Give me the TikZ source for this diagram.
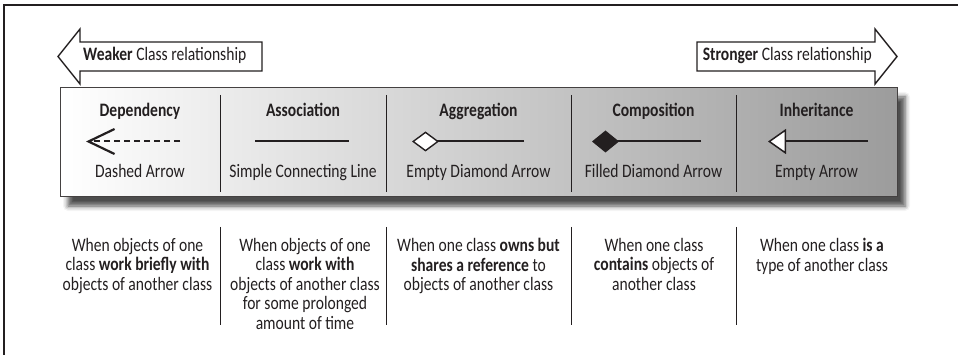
\documentclass[tikz,border=0pt]{standalone}
\usepackage{fontspec}
\setmainfont{Carlito}[FakeStretch=0.82]
\usetikzlibrary{arrows.meta,positioning,shadows.blur}
\definecolor{relInk}{HTML}{231F20}
\definecolor{relDark}{HTML}{9C9C9C}

\begin{document}
\begin{tikzpicture}[x=1pt,y=-1pt,font=\fontsize{19}{19.5}\selectfont,text=relInk,
    band/.style={draw=relInk,line width=1.4pt,fill=white,line join=miter},
    strip/.style={draw=relInk!85,line width=1pt,left color=white,right color=relDark,
                  minimum width=837pt,minimum height=109pt,inner sep=0pt,
                  blur shadow={shadow xshift=8pt,shadow yshift=-9pt,
                               shadow blur radius=5pt,shadow opacity=70}},
    title/.style={font=\fontsize{19}{19.5}\selectfont\bfseries,anchor=base},
    kind/.style={anchor=base},
    note/.style={align=center,anchor=north,inner sep=0pt},
    sep/.style={draw=relInk,line width=1pt},
    icon/.style={draw=relInk,line width=2pt}]
  \useasboundingbox (0,0) rectangle (958,355);
  % outer frame
  \draw[relInk,line width=1.3pt] (4,355) -- (4,5) -- (958,5);

  % direction arrows
  \draw[band] (262,42) -- (80,42) -- (80,29) -- (58,56.5) -- (80,84) -- (80,71) -- (262,71) -- cycle;
  \draw[band] (697,42) -- (875,42) -- (875,29) -- (897,56.5) -- (875,84) -- (875,71) -- (697,71) -- cycle;
  \node[anchor=base west,inner sep=0pt] (weak) at (83,61)
       {\textbf{Weaker} Class relationship};
  \node[anchor=base east,inner sep=0pt] (strong) at (872,61)
       {\textbf{Stronger} Class relationship};

  % the shaded strip
  \node[strip] (strip) at (478.5,142.5) {};

  % titles
  \node[title] (dep)   at (140,117)   {Dependency};
  \node[title] (assoc) at (303,117)   {Association};
  \node[title] (aggr)  at (478.5,117) {Aggregation};
  \node[title] (comp)  at (653.5,117) {Composition};
  \node[title] (inh)   at (816.5,117) {Inheritance};

  % icons
  \coordinate (depA) at (180,141.5);  \coordinate (depB) at (86,141.5);
  \coordinate (assA) at (255,141.5);  \coordinate (assB) at (349,141.5);
  \coordinate (aggA) at (524,141.5);  \coordinate (aggB) at (412,141.5);
  \coordinate (comA) at (701,141.5);  \coordinate (comB) at (592,141.5);
  \coordinate (inhA) at (868,141.5);  \coordinate (inhB) at (768,141.5);
  \draw[icon,dash pattern=on 6pt off 4pt,-{Straight Barb[length=26pt,width=25pt,line width=2.2pt]}]
       (depA) -- (depB);
  \draw[icon] (assA) -- (assB);
  \draw[icon,-{Diamond[length=27pt,width=20pt,fill=white,line width=1.4pt]}] (aggA) -- (aggB);
  \draw[icon,-{Diamond[length=27pt,width=22pt,fill=relInk,line width=1.4pt]}] (comA) -- (comB);
  \draw[icon,-{Triangle[length=18pt,width=25pt,fill=white,line width=1.5pt]}] (inhA) -- (inhB);

  % kinds
  \node[kind] (depK)   at (140,178)   {Dashed Arrow};
  \node[kind] (assocK) at (303,178)   {Simple Connecting Line};
  \node[kind] (aggrK)  at (478.5,178) {Empty Diamond Arrow};
  \node[kind] (compK)  at (653.5,178) {Filled Diamond Arrow};
  \node[kind] (inhK)   at (816.5,178) {Empty Arrow};

  % dividers
  \foreach \x in {220,386,571,736} {
    \draw[sep] (\x,95) -- (\x,192);
    \draw[sep] (\x,227) -- (\x,325);
  }

  % descriptions
  \node[note] (depN) at (137.5,238)
       {When objects of one\\class \textbf{work briefly with}\\objects of another class};
  \node[note] (assocN) at (305,238)
       {When objects of one\\class \textbf{work with}\\objects of another class\\for some prolonged\\amount of time};
  \node[note] (aggrN) at (478.5,238)
       {When one class \textbf{owns but}\\\textbf{shares a reference} to\\objects of another class};
  \node[note] (compN) at (654,238)
       {When one class\\\textbf{contains} objects of\\another class};
  \node[note] (inhN) at (822,238)
       {When one class \textbf{is a}\\type of another class};
\end{tikzpicture}
\end{document}
